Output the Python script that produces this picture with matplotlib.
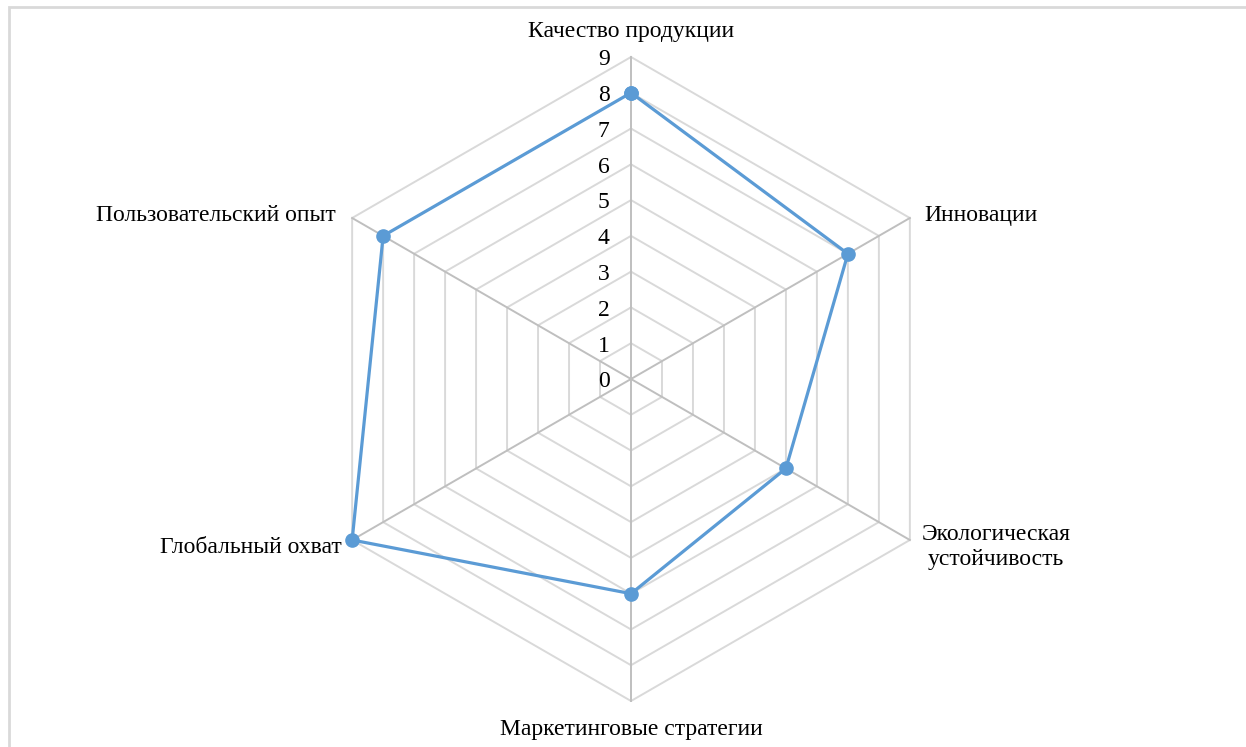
import numpy as np
import matplotlib
matplotlib.use("Agg")
import matplotlib.pyplot as plt
import matplotlib.patches as patches

plt.rcParams['font.family'] = ['Liberation Serif', 'DejaVu Serif']

# data
categories = ["Качество продукции", "Инновации", "Экологическая\nустойчивость",
              "Маркетинговые стратегии", "Глобальный охват", "Пользовательский опыт"]
values = [8, 7, 5, 6, 9, 8]
ticks = list(range(0, 10))

W, H = 1246, 747
cx, cy = 631, 379          # centre in pixels (from top)
scale = 322 / 9            # pixels per unit

fig = plt.figure(figsize=(W / 100, H / 100), dpi=100)
ax = fig.add_axes([0, 0, 1, 1])
ax.set_xlim(-cx / scale, (W - cx) / scale)
ax.set_ylim(-(H - cy) / scale, cy / scale)
ax.axis('off')

n = len(categories)
ang = np.arange(n) * 2 * np.pi / n
sx, sy = np.sin(ang), np.cos(ang)
rmax = ticks[-1]

# hexagonal grid rings
for t in ticks[1:]:
    ax.plot(np.append(sx, sx[0]) * t, np.append(sy, sy[0]) * t,
            color='#d9d9d9', lw=1.4, zorder=1)
# spokes
for i in range(n):
    ax.plot([0, sx[i] * rmax], [0, sy[i] * rmax], color='#bfbfbf', lw=1.4, zorder=2)

# series
v = np.array(values, dtype=float)
ax.plot(np.append(sx * v, sx[0] * v[0]), np.append(sy * v, sy[0] * v[0]),
        color='#5b9bd5', lw=2.3, marker='o', ms=9.5, zorder=3)

fs = 17

# radial tick labels
for t in ticks:
    ax.text(-0.6, t - 0.08, str(t), ha='right', va='center', fontsize=fs, zorder=4)

# category labels
ax.text(0, rmax + 0.72, categories[0], ha='center', va='center', fontsize=fs)
ax.text(sx[1] * rmax + 0.4, sy[1] * rmax + 0.08, categories[1], ha='left', va='center', fontsize=fs)
ax.text(sx[2] * rmax + 0.33, sy[2] * rmax - 0.2, categories[2], ha='left', va='center',
        multialignment='center', fontsize=fs, linespacing=1.25)
ax.text(0, -rmax - 0.8, categories[3], ha='center', va='center', fontsize=fs)
ax.text(sx[4] * rmax - 0.28, sy[4] * rmax - 0.2, categories[4], ha='right', va='center', fontsize=fs)
ax.text(sx[5] * rmax - 0.45, sy[5] * rmax + 0.08, categories[5], ha='right', va='center', fontsize=fs)

# chart area frame (cropped on right and bottom)
fig.patches.append(patches.Rectangle((9 / W, -0.1), 2, 1 - 7 / H + 0.1,
                                     transform=fig.transFigure, fill=False,
                                     edgecolor='#d9d9d9', lw=2))

fig.savefig('out.png', dpi=100, facecolor='white')
